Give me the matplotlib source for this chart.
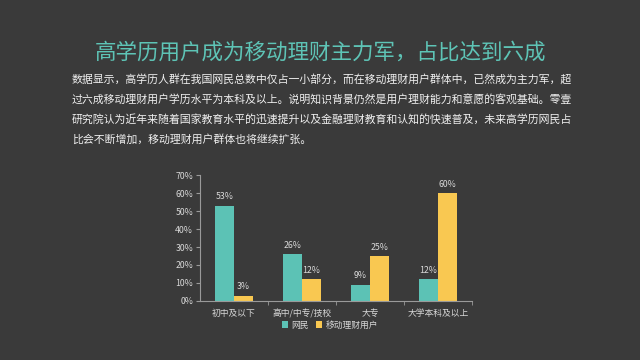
import matplotlib.pyplot as plt
import numpy as np

plt.rcParams['font.family'] = ['Noto Sans CJK SC', 'DejaVu Sans']

# 数据
categories = ['初中及以下', '高中/中专/技校', '大专', '大学本科及以上']
netizens = [53, 26, 9, 12]
finance_users = [3, 12, 25, 60]
series_names = ['网民', '移动理财用户']

bg = '#3a3a3a'
teal = '#5cc2b5'
yellow = '#f9c851'
txt = '#d9d9d9'

title = '高学历用户成为移动理财主力军，占比达到六成'
body = [
    '数据显示，高学历人群在我国网民总数中仅占一小部分，而在移动理财用户群体中，已然成为主力军，超',
    '过六成移动理财用户学历水平为本科及以上。说明知识背景仍然是用户理财能力和意愿的客观基础。零壹',
    '研究院认为近年来随着国家教育水平的迅速提升以及金融理财教育和认知的快速普及，未来高学历网民占',
    '比会不断增加，移动理财用户群体也将继续扩张。',
]

fig = plt.figure(figsize=(6.4, 3.6), dpi=100, facecolor=bg)
fig.text(0.5, 1 - 53 / 360, title, ha='center', va='center', fontsize=15.5, color='#5ec4b6',
         fontweight='light')
for i, line in enumerate(body):
    fig.text(72 / 640, 1 - (79 + i * 20) / 360, line, ha='left', va='center', fontsize=7.85, color='#f0f0f0')

ax = fig.add_axes([200 / 640, 1 - 301 / 360, 272 / 640, 126 / 360])
ax.set_facecolor(bg)
x = np.arange(len(categories))
w = 0.28
b1 = ax.bar(x - w / 2, netizens, w, color=teal, label=series_names[0])
b2 = ax.bar(x + w / 2, finance_users, w, color=yellow, label=series_names[1])
for bars, vals in [(b1, netizens), (b2, finance_users)]:
    for r, v in zip(bars, vals):
        ax.text(r.get_x() + r.get_width() / 2, v + 2.5, f'{v}%', ha='center', va='bottom',
                fontsize=6.3, color=txt)

ax.set_xlim(-0.5, 3.5)
ax.set_ylim(0, 70)
ax.set_yticks(range(0, 71, 10))
ax.set_yticklabels([f'{v}%' for v in range(0, 71, 10)])
ax.set_xticks(x)
ax.set_xticklabels(categories)
ax.set_xticks([0.5, 1.5, 2.5, 3.5], minor=True)
ax.tick_params(axis='x', which='major', length=0, labelsize=6.3, colors=txt, pad=6)
ax.tick_params(axis='x', which='minor', length=3, color='#9a9a9a')
ax.tick_params(axis='y', length=3, labelsize=6.3, colors=txt, color='#9a9a9a', pad=2)
for s in ['top', 'right']:
    ax.spines[s].set_visible(False)
for s in ['left', 'bottom']:
    ax.spines[s].set_color('#9a9a9a')
    ax.spines[s].set_linewidth(0.8)

leg = fig.legend(handles=[b1, b2], loc='center', bbox_to_anchor=(330 / 640, 1 - 325 / 360), ncol=2,
                 frameon=False, fontsize=6.3, handlelength=0.7, handleheight=0.7,
                 handletextpad=0.4, columnspacing=0.8)
for t in leg.get_texts():
    t.set_color(txt)

fig.savefig('out.png', dpi=100, facecolor=bg)
